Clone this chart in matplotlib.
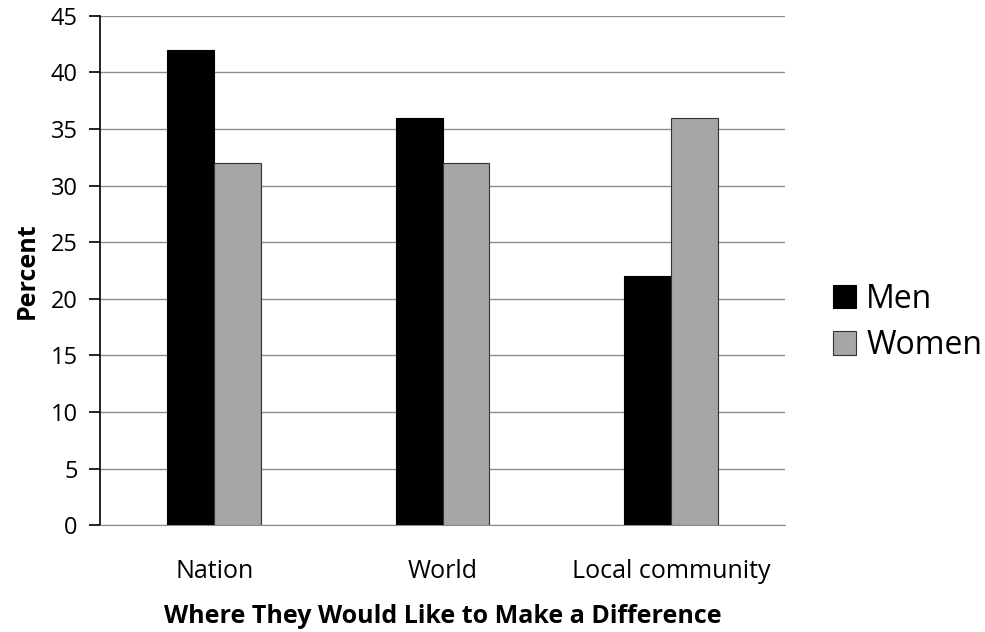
import numpy as np
from matplotlib import pyplot as plt

categories = ["Nation", "World", "Local community"]
men = [42, 36, 22]
women = [32, 32, 36]

plt.rcParams['font.family'] = ['Open Sans', 'DejaVu Sans']

fig = plt.figure(figsize=(9.85, 6.32), dpi=100)
ax = fig.add_axes([0.1015, 0.169, 0.6955, 0.806])

x = np.arange(len(categories))
w = 0.205
ax.bar(x - w / 2, men, w, color='black', edgecolor='black', lw=0.8, label='Men', zorder=3)
ax.bar(x + w / 2, women, w, color='#a6a6a6', edgecolor='#333333', lw=0.8, label='Women', zorder=3)

ax.set_xlim(-0.5, 2.5)
ax.set_ylim(0, 45)
ax.set_yticks(range(0, 46, 5))
ax.set_xticks(x)
ax.set_xticklabels(categories, fontsize=18)
ax.tick_params(axis='x', length=0, pad=24)
ax.tick_params(axis='y', labelsize=17, length=8, width=1.2, pad=8)
ax.yaxis.grid(True, color='#8c8c8c', lw=1, zorder=0)
for s in ['top', 'right']:
    ax.spines[s].set_visible(False)
ax.spines['bottom'].set_color('#8c8c8c')
ax.spines['left'].set_linewidth(1.2)

ax.set_ylabel('Percent', fontsize=18, fontweight='bold', labelpad=8)
ax.set_xlabel('Where They Would Like to Make a Difference', fontsize=18, fontweight='bold', labelpad=15)

fig.legend(loc='center left', bbox_to_anchor=(0.816, 0.49), frameon=False, fontsize=23,
           handlelength=0.75, handleheight=0.75, handletextpad=0.3, labelspacing=0.42)

plt.savefig('out.png', dpi=100)
